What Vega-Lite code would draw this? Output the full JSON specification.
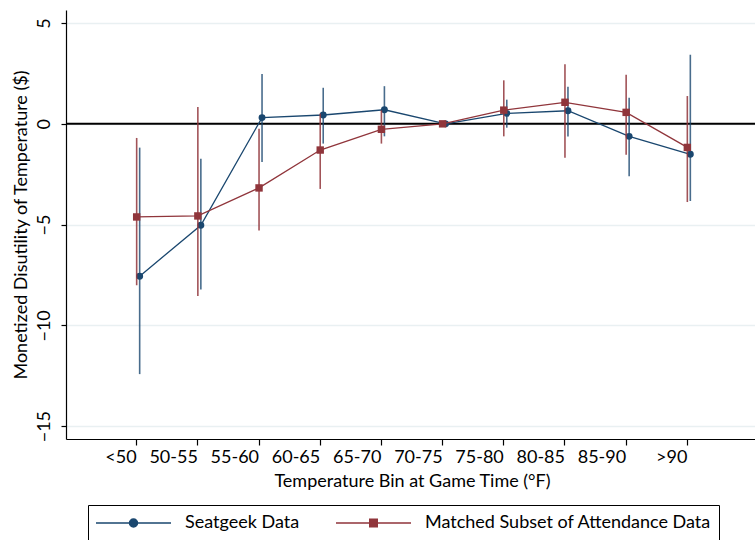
{
  "$schema": "https://vega.github.io/schema/vega-lite/v6.json",
  "width": 692,
  "height": 429,
  "autosize": {"type": "none"},
  "padding": {"left": 66, "top": 10, "right": 0, "bottom": 101},
  "background": "white",
  "config": {
    "font": "Lato",
    "view": {"stroke": null},
    "axis": {
      "domainColor": "black",
      "tickColor": "black",
      "labelColor": "black",
      "titleColor": "black",
      "labelFontSize": 18,
      "titleFontSize": 18,
      "titleFontWeight": "normal",
      "domainWidth": 1.2,
      "tickWidth": 1.2
    }
  },
  "datasets": {
    "est": [
      {"bin": "<50", "series": "Seatgeek Data", "est": -7.56, "lo": -12.42, "hi": -1.18},
      {"bin": "50-55", "series": "Seatgeek Data", "est": -5.03, "lo": -8.22, "hi": -1.73},
      {"bin": "55-60", "series": "Seatgeek Data", "est": 0.31, "lo": -1.89, "hi": 2.48},
      {"bin": "60-65", "series": "Seatgeek Data", "est": 0.44, "lo": -0.98, "hi": 1.79},
      {"bin": "65-70", "series": "Seatgeek Data", "est": 0.70, "lo": -0.62, "hi": 1.87},
      {"bin": "70-75", "series": "Seatgeek Data", "est": 0, "lo": null, "hi": null},
      {"bin": "75-80", "series": "Seatgeek Data", "est": 0.52, "lo": -0.19, "hi": 1.20},
      {"bin": "80-85", "series": "Seatgeek Data", "est": 0.65, "lo": -0.63, "hi": 1.84},
      {"bin": "85-90", "series": "Seatgeek Data", "est": -0.62, "lo": -2.60, "hi": 1.30},
      {"bin": ">90", "series": "Seatgeek Data", "est": -1.51, "lo": -3.83, "hi": 3.43},
      {"bin": "<50", "series": "Matched Subset of Attendance Data", "est": -4.62, "lo": -8.01, "hi": -0.70},
      {"bin": "50-55", "series": "Matched Subset of Attendance Data", "est": -4.57, "lo": -8.54, "hi": 0.83},
      {"bin": "55-60", "series": "Matched Subset of Attendance Data", "est": -3.18, "lo": -5.29, "hi": -0.24},
      {"bin": "60-65", "series": "Matched Subset of Attendance Data", "est": -1.30, "lo": -3.23, "hi": 0.51},
      {"bin": "65-70", "series": "Matched Subset of Attendance Data", "est": -0.27, "lo": -0.98, "hi": 0.67},
      {"bin": "70-75", "series": "Matched Subset of Attendance Data", "est": 0, "lo": null, "hi": null},
      {"bin": "75-80", "series": "Matched Subset of Attendance Data", "est": 0.68, "lo": -0.62, "hi": 2.16},
      {"bin": "80-85", "series": "Matched Subset of Attendance Data", "est": 1.07, "lo": -1.68, "hi": 2.96},
      {"bin": "85-90", "series": "Matched Subset of Attendance Data", "est": 0.57, "lo": -1.53, "hi": 2.44},
      {"bin": ">90", "series": "Matched Subset of Attendance Data", "est": -1.17, "lo": -3.88, "hi": 1.38}
    ],
    "ref": [{"level": 0}]
  },
  "data": {"name": "est"},
  "layer": [
    {
      "data": {"name": "ref"},
      "mark": {"type": "rule", "color": "black", "strokeWidth": 2},
      "encoding": {
        "y": {
          "field": "level", "type": "quantitative",
          "scale": {"domain": [-15.64, 5.65], "nice": false, "zero": false},
          "axis": {
            "values": [-15, -10, -5, 0, 5],
            "tickSize": 5,
            "labelAngle": -90,
            "labelAlign": "center",
            "labelBaseline": "bottom",
            "labelPadding": 8,
            "grid": true,
            "gridColor": "#e9f0f2",
            "gridWidth": 1.5,
            "titlePadding": 5
          },
          "title": "Monetized Disutility of Temperature ($)"
        }
      }
    },
    {
      "transform": [{"filter": "datum.series === 'Seatgeek Data'"}],
      "mark": {"type": "rule", "color": "#1a476f", "strokeWidth": 1.6, "opacity": 0.8, "xOffset": 3},
      "encoding": {
        "x": {"field": "bin", "type": "ordinal", "sort": ["<50", "50-55", "55-60", "60-65", "65-70", "70-75", "75-80", "80-85", "85-90", ">90"], "scale": {"type": "band", "paddingInner": 0.69, "paddingOuter": 1}},
        "y": {"field": "lo", "type": "quantitative", "title": "Monetized Disutility of Temperature ($)"},
        "y2": {"field": "hi"}
      }
    },
    {
      "transform": [{"filter": "datum.series === 'Seatgeek Data'"}],
      "mark": {"type": "line", "color": "#1a476f", "strokeWidth": 1.3, "xOffset": 3},
      "encoding": {
        "x": {"field": "bin", "type": "ordinal", "sort": ["<50", "50-55", "55-60", "60-65", "65-70", "70-75", "75-80", "80-85", "85-90", ">90"], "scale": {"type": "band", "paddingInner": 0.69, "paddingOuter": 1}},
        "y": {"field": "est", "type": "quantitative", "title": "Monetized Disutility of Temperature ($)"}
      }
    },
    {
      "transform": [{"filter": "datum.series === 'Seatgeek Data'"}],
      "mark": {"type": "point", "shape": "circle", "filled": true, "opacity": 1, "color": "#1a476f", "size": 48, "xOffset": 3},
      "encoding": {
        "x": {"field": "bin", "type": "ordinal", "sort": ["<50", "50-55", "55-60", "60-65", "65-70", "70-75", "75-80", "80-85", "85-90", ">90"], "scale": {"type": "band", "paddingInner": 0.69, "paddingOuter": 1}},
        "y": {"field": "est", "type": "quantitative", "title": "Monetized Disutility of Temperature ($)"}
      }
    },
    {
      "transform": [{"filter": "datum.series !== 'Seatgeek Data'"}],
      "mark": {"type": "rule", "color": "#90353b", "strokeWidth": 1.6, "opacity": 0.85},
      "encoding": {
        "x": {"field": "bin", "type": "ordinal", "sort": ["<50", "50-55", "55-60", "60-65", "65-70", "70-75", "75-80", "80-85", "85-90", ">90"], "scale": {"type": "band", "paddingInner": 0.69, "paddingOuter": 1}},
        "y": {"field": "lo", "type": "quantitative", "title": "Monetized Disutility of Temperature ($)"},
        "y2": {"field": "hi"}
      }
    },
    {
      "transform": [{"filter": "datum.series !== 'Seatgeek Data'"}],
      "mark": {"type": "line", "color": "#90353b", "strokeWidth": 1.3},
      "encoding": {
        "x": {"field": "bin", "type": "ordinal", "sort": ["<50", "50-55", "55-60", "60-65", "65-70", "70-75", "75-80", "80-85", "85-90", ">90"], "scale": {"type": "band", "paddingInner": 0.69, "paddingOuter": 1}},
        "y": {"field": "est", "type": "quantitative", "title": "Monetized Disutility of Temperature ($)"}
      }
    },
    {
      "transform": [{"filter": "datum.series !== 'Seatgeek Data'"}],
      "mark": {"type": "point", "shape": "square", "filled": true, "opacity": 1, "color": "#90353b", "size": 55},
      "encoding": {
        "x": {
          "field": "bin", "type": "ordinal",
          "sort": ["<50", "50-55", "55-60", "60-65", "65-70", "70-75", "75-80", "80-85", "85-90", ">90"],
          "scale": {"type": "band", "paddingInner": 0.69, "paddingOuter": 1},
          "axis": {"labelAngle": 0, "tickSize": 6, "labelPadding": 3, "labelBaseline": "top", "titlePadding": 6, "grid": false, "bandPosition": 0.5},
          "title": "Temperature Bin at Game Time (°F)"
        },
        "y": {"field": "est", "type": "quantitative", "title": "Monetized Disutility of Temperature ($)"}
      }
    },
    {
      "mark": {"type": "point", "filled": true, "opacity": 0},
      "encoding": {
        "x": {"field": "bin", "type": "ordinal", "sort": ["<50", "50-55", "55-60", "60-65", "65-70", "70-75", "75-80", "80-85", "85-90", ">90"], "scale": {"type": "band", "paddingInner": 0.69, "paddingOuter": 1}},
        "y": {"field": "est", "type": "quantitative", "title": "Monetized Disutility of Temperature ($)"},
        "color": {
          "field": "series", "type": "nominal",
          "scale": {"domain": ["Seatgeek Data", "Matched Subset of Attendance Data"], "range": ["#1a476f", "#90353b"]},
          "legend": {
            "orient": "none",
            "legendX": 22,
            "legendY": 495,
            "direction": "horizontal",
            "columns": 2,
            "title": null,
            "strokeColor": "black",
            "padding": 7,
            "symbolSize": 5625,
            "clipHeight": 22,
            "symbolStrokeWidth": 1.5,
            "symbolOpacity": 1,
            "labelOffset": 13,
            "columnPadding": 35,
            "labelFontSize": 18,
            "labelColor": "black",
            "labelLimit": 400,
            "encode": {
              "symbols": {
                "update": {
                  "stroke": {"scale": "color", "field": "value"},
                  "fill": {"scale": "color", "field": "value"}
                }
              }
            }
          }
        },
        "shape": {
          "field": "series", "type": "nominal",
          "scale": {
            "domain": ["Seatgeek Data", "Matched Subset of Attendance Data"],
            "range": [
              "M-1,0H1M0.107,0A0.107,0.107,0,1,1,-0.107,0A0.107,0.107,0,1,1,0.107,0Z",
              "M-1,0H1M-0.1,-0.1H0.1V0.1H-0.1Z"
            ]
          }
        }
      }
    }
  ]
}
